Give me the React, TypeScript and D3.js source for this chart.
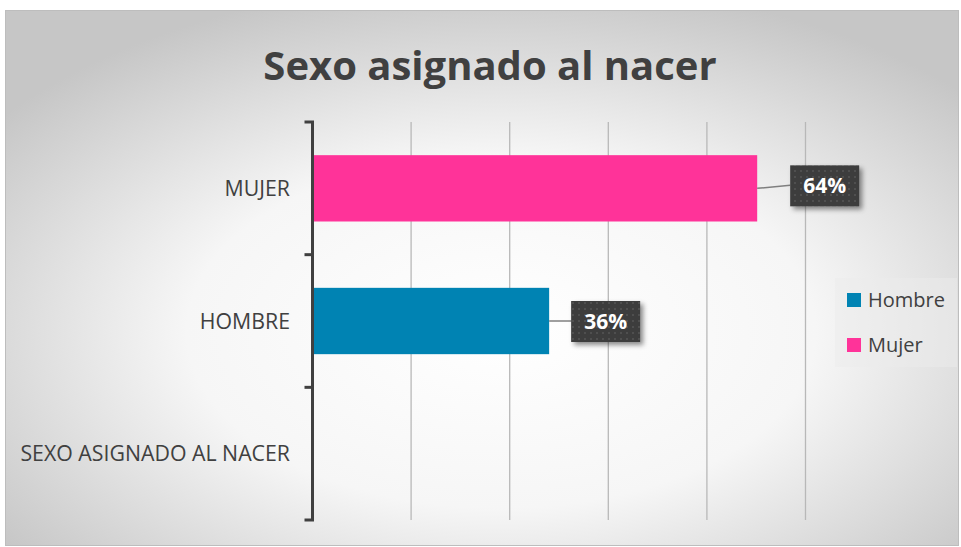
import React from "react";
import * as d3 from "d3";

const categories = ["MUJER", "HOMBRE", "SEXO ASIGNADO AL NACER"];
const seriesNames = ["Hombre", "Mujer"];
const seriesColors = ["#0083B3", "#FF3399"];
// bar lengths in axis units (axis 0..5) and the displayed data labels
const barCategory = ["MUJER", "HOMBRE"];
const barSeries = ["Mujer", "Hombre"];
const barValues = [4.51, 2.4];
const barLabels = ["64%", "36%"];
const xTicks = [0, 1, 2, 3, 4, 5];
const titleText = "Sexo asignado al nacer";

const W = 961;
const H = 547;

export default function App() {
  const plotLeft = 312.5;
  const plotRight = 805.5;
  const plotTop = 122;
  const plotBottom = 520;
  const x = d3.scaleLinear().domain([0, 5]).range([plotLeft, plotRight]);
  const y = d3.scaleBand().domain(categories).range([plotTop, plotBottom]).paddingInner(0).paddingOuter(0);
  const barH = y.bandwidth() * 0.5;
  const color = d3.scaleOrdinal<string, string>().domain(seriesNames).range(seriesColors);
  const font = "Open Sans, 'Liberation Sans', sans-serif";
  const boundaries = categories.map((c) => y(c)!).concat([plotBottom]);

  return (
    <svg width={W} height={H} style={{ position: "absolute", left: 0, top: 0 }} xmlns="http://www.w3.org/2000/svg">
      <defs>
        <radialGradient id="bg" cx="0.52" cy="0.6" r="0.66" gradientUnits="objectBoundingBox">
          <stop offset="0" stopColor="#ffffff" />
          <stop offset="0.5" stopColor="#f6f6f6" />
          <stop offset="1" stopColor="#c6c6c6" />
        </radialGradient>
        <pattern id="dots" width="6" height="6" patternUnits="userSpaceOnUse">
          <rect width="6" height="6" fill="#3c3c3c" />
          <circle cx="3" cy="3" r="1" fill="#555555" />
        </pattern>
        <filter id="shadow" x="-20%" y="-20%" width="150%" height="160%">
          <feDropShadow dx="3" dy="3" stdDeviation="2.5" floodColor="#000" floodOpacity="0.45" />
        </filter>
      </defs>
      <rect x={0} y={0} width={W} height={H} fill="#ffffff" />
      <rect x={5.5} y={10.5} width={953} height={535} fill="url(#bg)" stroke="#bdbdbd" strokeWidth={1} />

      <text x={490} y={80} textAnchor="middle" fontFamily={font} fontWeight={700} fontSize={40} fill="#404040">
        {titleText}
      </text>

      {xTicks.slice(1).map((t) => (
        <line key={t} x1={x(t)} x2={x(t)} y1={plotTop} y2={plotBottom} stroke="#b8b8b8" strokeWidth={1.3} />
      ))}

      {barValues.map((v, i) => {
        const cy = y(barCategory[i])! + y.bandwidth() / 2;
        return (
          <rect key={i} x={x(0)} y={cy - barH / 2} width={x(v) - x(0)} height={barH} fill={color(barSeries[i])} />
        );
      })}

      <line x1={plotLeft} x2={plotLeft} y1={plotTop} y2={plotBottom} stroke="#404040" strokeWidth={3} />
      {boundaries.map((b, i) => (
        <line key={i} x1={plotLeft - 8} x2={plotLeft + 1.5} y1={b} y2={b} stroke="#404040" strokeWidth={3} />
      ))}

      {categories.map((c) => (
        <text key={c} x={290} y={y(c)! + y.bandwidth() / 2 + 7.5} textAnchor="end" fontFamily={font} fontSize={21.3} fill="#404040">
          {c}
        </text>
      ))}

      {barValues.map((v, i) => {
        const cy = y(barCategory[i])! + y.bandwidth() / 2;
        const bx = x(v) + (i === 0 ? 33 : 22);
        const by = cy - (i === 0 ? 23 : 20);
        return (
          <g key={i}>
            <line x1={x(v)} y1={cy} x2={bx} y2={i === 0 ? cy - 3 : cy} stroke="#7f7f7f" strokeWidth={1.5} />
            <rect x={bx} y={by} width={69} height={41} fill="url(#dots)" filter="url(#shadow)" />
            <text x={bx + 34.5} y={by + 28} textAnchor="middle" fontFamily={font} fontWeight={700} fontSize={21} fill="#ffffff">
              {barLabels[i]}
            </text>
          </g>
        );
      })}

      <rect x={835} y={278} width={122} height={89} fill="#ebebeb" opacity={0.5} />
      {seriesNames.map((s, i) => (
        <g key={s} transform={`translate(847, ${293 + i * 45})`}>
          <rect x={0} y={0} width={14} height={14} fill={color(s)} />
          <text x={21} y={14} fontFamily={font} fontSize={20} fill="#404040">
            {s}
          </text>
        </g>
      ))}
    </svg>
  );
}
